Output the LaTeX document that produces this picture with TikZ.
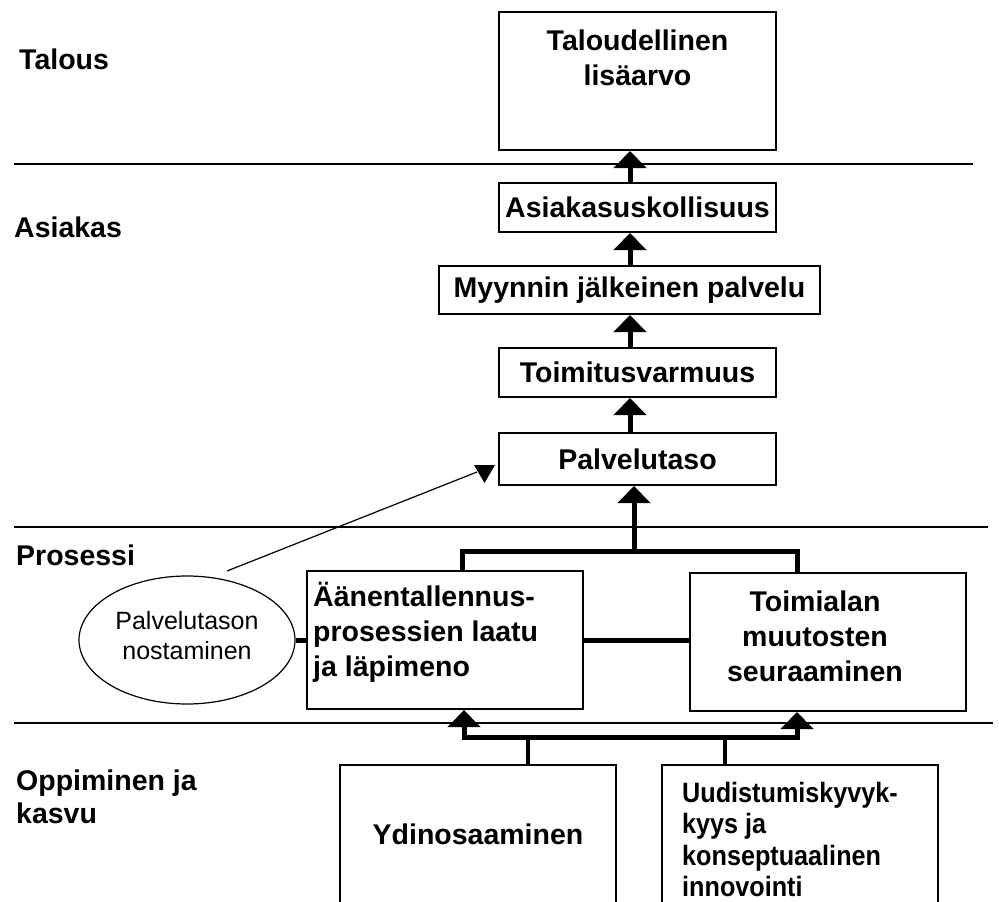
\documentclass[tikz,border=0pt]{standalone}
\usepackage{fontspec}
\setmainfont{Liberation Sans}
\newfontfamily\narrowsans[FakeStretch=0.9]{Liberation Sans}
\usetikzlibrary{arrows.meta,shapes.geometric}

\begin{document}
\begin{tikzpicture}[x=1pt,y=-1pt,
  box/.style={draw, line width=2pt, inner sep=0pt, align=center,
    font=\bfseries\fontsize{28.5}{35}\selectfont},
  boxtext/.style={inner sep=0pt, font=\bfseries\fontsize{28.5}{35}\selectfont},
  lowtext/.style={inner sep=0pt, font=\narrowsans\bfseries\fontsize{28}{31.5}\selectfont},
  lane/.style={inner sep=0pt, align=left, font=\bfseries\fontsize{28.5}{33}\selectfont},
  sep/.style={line width=2pt},
  flow/.style={line width=5pt, -{Triangle[length=17pt,width=32pt]}},
  bar/.style={line width=5pt, line join=miter},
  thinbar/.style={line width=3.5pt},
  note/.style={draw, ellipse, line width=1.2pt, inner sep=0pt, align=center,
    font=\fontsize{25}{30}\selectfont},
]
\useasboundingbox (0,0) rectangle (999,902);

% perspective separators
\draw[sep] (14,164) -- (973,164);
\draw[sep] (14,527) -- (988,527);
\draw[sep] (14,723) -- (993,723);

% perspective names
\node[lane, anchor=base west] (lt) at (19,69) {Talous};
\node[lane, anchor=base west] (la) at (14,237) {Asiakas};
\node[lane, anchor=base west] (lp) at (16,565) {Prosessi};
\node[lane, anchor=north west] (lo) at (16,769.5) {Oppiminen ja\\kasvu};

% goal boxes
\node[box, minimum width=277pt, minimum height=138pt] (tal) at (637.5,81) {};
\node[boxtext, align=center] (taltx) at (637.5,58) {Taloudellinen\\lisäarvo};
\node[box, minimum width=277pt, minimum height=49pt] (ask) at (637.5,207.5) {Asiakasuskollisuus};
\node[box, minimum width=381pt, minimum height=48pt] (myy) at (629.5,290) {Myynnin jälkeinen palvelu};
\node[box, minimum width=277pt, minimum height=49pt] (toi) at (637.5,372.5) {Toimitusvarmuus};
\node[box, minimum width=277pt, minimum height=52pt] (pal) at (637.5,459) {Palvelutaso};

\node[box, minimum width=276pt, minimum height=138pt] (aan) at (445,640) {};
\node[boxtext, align=left, anchor=north west] (aantx) at (313,582) {Äänentallennus-\\prosessien laatu\\ja läpimeno};
\node[box, minimum width=276pt, minimum height=138pt] (tml) at (827.5,642) {};
\node[boxtext, align=center] (tmltx) at (815,636) {Toimialan\\muutosten\\seuraaminen};

\node[box, minimum width=276pt, minimum height=139pt,
  font=\bfseries\fontsize{28.5}{31.5}\selectfont] (ydin) at (478,834.5) {Ydinosaaminen};
\node[box, minimum width=276pt, minimum height=139pt] (uud) at (800,834.5) {};
\node[lowtext, align=left, anchor=north west] (uudtx) at (682,782)
  {Uudistumiskyvyk-\\kyys ja\\konseptuaalinen\\innovointi};

% initiative
\node[note, minimum width=216pt, minimum height=128pt] (ell) at (187,640) {};
\node[inner sep=0pt, align=center, font=\fontsize{25}{30}\selectfont] (elltx) at (187,636)
  {Palvelutason\\nostaminen};

% chain of customer goals
\coordinate (cx) at (630,0);
\draw[flow] (ask.north -| cx) -- (tal.south -| cx);
\draw[flow] (myy.north -| cx) -- (ask.south -| cx);
\draw[flow] (toi.north -| cx) -- (myy.south -| cx);
\draw[flow] (pal.north -| cx) -- (toi.south -| cx);

% process level joins into service level
\coordinate (j1) at (462,551);
\coordinate (j2) at (797,551);
\coordinate (jm) at (634,551);
\draw[bar] (aan.north -| j1) -- (j1) -- (j2) -- (tml.north -| j2);
\draw[flow] (jm) -- (pal.south -| jm);
\draw[bar] (aan.east) -- (aan.east -| tml.west);
\draw[bar] (ell.east) -- (ell.east -| aan.west);

% learning level feeds the processes
\coordinate (b1) at (464,737);
\coordinate (b2) at (797,737);
\coordinate (v1) at (528,737);
\coordinate (v2) at (725,737);
\draw[bar, line cap=rect] (b1) -- (b2);
\draw[flow] (b1) -- (aan.south -| b1);
\draw[flow] (b2) -- (tml.south -| b2);
\draw[thinbar] (ydin.north -| v1) -- (v1);
\draw[thinbar] (uud.north -| v2) -- (v2);

% pointer from the initiative to the service level
\coordinate (ds) at (227,571);
\coordinate (hd) at (477,472);
\draw[line width=1.2pt] (ds) -- (hd);
\fill (474,465) -- (495,465) -- (484.5,483) -- cycle;
\end{tikzpicture}
\end{document}
